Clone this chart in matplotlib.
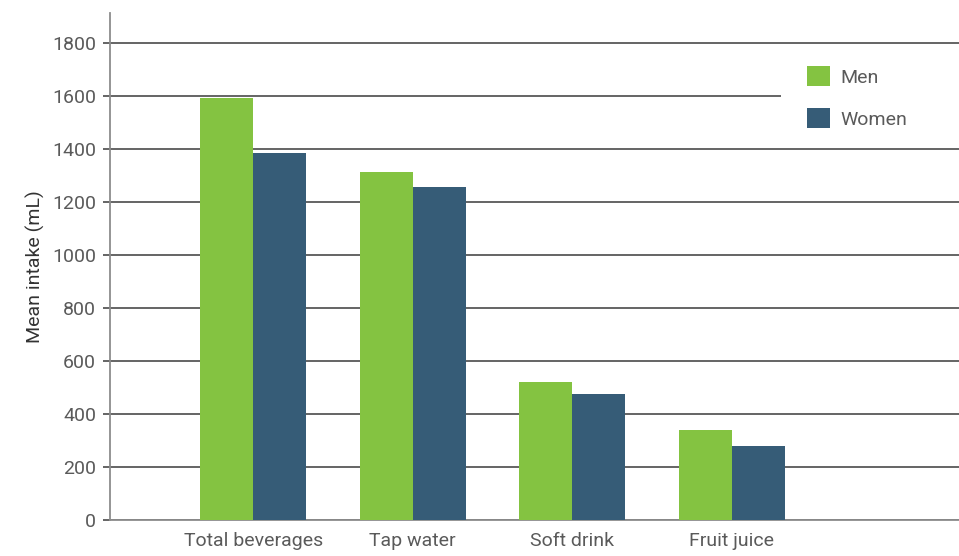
import matplotlib
matplotlib.use("Agg")
import matplotlib.pyplot as plt
from matplotlib.patches import Rectangle
import numpy as np

categories = ["Total beverages", "Tap water", "Soft drink", "Fruit juice"]
men = [1590, 1313, 521, 340]
women = [1385, 1257, 475, 279]
series_labels = ["Men", "Women"]
y_ticks = [0, 200, 400, 600, 800, 1000, 1200, 1400, 1600, 1800]

GREEN = "#84c341"
NAVY = "#365c77"
TEXT = "#5a5a5a"
GRID = "#4a4a4a"
SPINE = "#8c8c8c"

plt.rcParams["font.family"] = ["Roboto", "DejaVu Sans"]
plt.rcParams["font.size"] = 14

fig = plt.figure(figsize=(9.59, 5.56), dpi=100)
ax = fig.add_axes([110 / 959, 1 - 520 / 556, 849 / 959, (520 - 13) / 556])

x = np.arange(len(categories))
w = 1 / 3
ax.bar(x - w / 2, men, width=w, color=GREEN, label=series_labels[0], zorder=3)
ax.bar(x + w / 2, women, width=w, color=NAVY, label=series_labels[1], zorder=3)

ax.set_xlim(-0.898, 4.425)
ax.set_ylim(0, 1912)
ax.set_yticks(y_ticks)
ax.set_xticks(x)
ax.set_xticklabels(categories)

ax.yaxis.grid(True, color=GRID, linewidth=1.2, zorder=0)
ax.set_axisbelow(True)

for side in ("top", "right"):
    ax.spines[side].set_visible(False)
ax.spines["left"].set_color(SPINE)
ax.spines["bottom"].set_color(SPINE)
ax.spines["left"].set_linewidth(1.3)
ax.spines["bottom"].set_linewidth(1.3)

ax.tick_params(axis="y", length=5, width=1.2, color=GRID, pad=5, labelcolor=TEXT, labelsize=14)
ax.tick_params(axis="x", length=0, pad=9, labelcolor=TEXT, labelsize=14)

ax.set_ylabel("Mean intake (mL)", color="#333333", fontsize=14, labelpad=5)

# white panel behind the legend, above the gridlines
ax.add_patch(Rectangle((781 / 959, 1 - 140 / 556), 178 / 959, 88 / 556,
                       transform=fig.transFigure, facecolor="white",
                       edgecolor="none", zorder=1, clip_on=False))

leg = ax.legend(loc="upper left", bbox_to_anchor=(807 / 959, 1 - 66 / 556),
                bbox_transform=fig.transFigure, frameon=False,
                handlelength=1.2, handleheight=1.2, handletextpad=0.5,
                labelspacing=1.12, borderpad=0, borderaxespad=0,
                fontsize=14, labelcolor=TEXT)
leg.set_zorder(5)

fig.savefig("out.png", dpi=100)
